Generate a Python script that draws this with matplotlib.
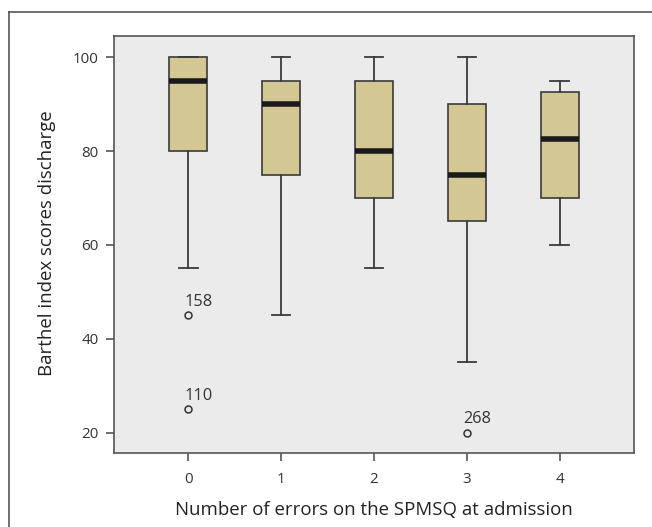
import matplotlib
matplotlib.use("Agg")
import matplotlib.pyplot as plt
from matplotlib.lines import Line2D

plt.rcParams['font.family'] = ['Open Sans', 'DejaVu Sans']

categories = ["0", "1", "2", "3", "4"]
whisker_low = [55, 45, 55, 35, 60]
q1 = [80, 75, 70, 65, 70]
median = [95, 90, 80, 75, 82.5]
q3 = [100, 95, 95, 90, 92.5]
whisker_high = [100, 100, 100, 100, 95]
outlier_group = [0, 0, 3]
outlier_value = [45, 25, 20]
outlier_label = ["158", "110", "268"]
yticks = [20, 40, 60, 80, 100]
xlabel = "Number of errors on the SPMSQ at admission"
ylabel = "Barthel index scores discharge"

W, H = 652, 527
fig = plt.figure(figsize=(W / 100, H / 100), dpi=100)
renderer = fig.canvas.get_renderer()


def fit_size(text, target_px, base=12.0):
    t = fig.text(0, 0, text, fontsize=base)
    bb = t.get_window_extent(renderer=renderer)
    t.remove()
    return base * target_px / bb.width


tick_fs = fit_size("100", 26)
out_fs = fit_size("158", 28)
xl_fs = fit_size(xlabel, 396)
yl_fs = xl_fs

ax = fig.add_axes([114 / W, 1 - 453 / H, (634 - 114) / W, (453 - 36) / H])

stats = []
for i, c in enumerate(categories):
    stats.append(dict(label=c, whislo=whisker_low[i], q1=q1[i], med=median[i],
                      q3=q3[i], whishi=whisker_high[i], fliers=[]))

edge = "#3a3a3a"
ax.bxp(stats, positions=range(len(categories)), widths=0.41, patch_artist=True,
       showfliers=False,
       boxprops=dict(facecolor="#d3c894", edgecolor=edge, linewidth=1.2),
       medianprops=dict(color="#1a1a1a", linewidth=4, solid_capstyle="butt"),
       whiskerprops=dict(color=edge, linewidth=1.3),
       capprops=dict(color=edge, linewidth=1.3),
       capwidths=0.2)

for g, v, lab in zip(outlier_group, outlier_value, outlier_label):
    ax.plot([g], [v], marker="o", markersize=5, markerfacecolor="none",
            markeredgecolor="#333333", markeredgewidth=1.1, linestyle="none")
    ax.annotate(lab, (g, v), xytext=(-2.5, 4), textcoords="offset points",
                fontsize=out_fs, color="#333333", ha="left", va="bottom")

ax.set_facecolor("#ebebeb")
ax.set_xlim(-0.8, 4.8)
ax.set_ylim(15.7, 104.5)
ax.set_yticks(yticks)
ax.set_xticks(range(len(categories)))
ax.set_xticklabels(categories)
for s in ax.spines.values():
    s.set_color("#555555")
    s.set_linewidth(1.2)
ax.tick_params(axis="both", direction="out", width=1.2, color="#555555",
               labelsize=tick_fs, labelcolor="#333333")
ax.tick_params(axis="y", length=6, pad=5)
ax.tick_params(axis="x", length=5.5, pad=8)

fig.text(374 / W, 1 - 510 / H, xlabel, fontsize=xl_fs, color="#222222",
         ha="center", va="center")
fig.text(47 / W, 1 - 243 / H, ylabel, fontsize=yl_fs, color="#222222",
         ha="center", va="center", rotation=90)

# outer frame (top and left visible)
fig.add_artist(Line2D([9 / W, 1], [1 - 12 / H, 1 - 12 / H], color="#555555",
                      linewidth=1.2, transform=fig.transFigure))
fig.add_artist(Line2D([9 / W, 9 / W], [0, 1 - 12 / H], color="#555555",
                      linewidth=1.2, transform=fig.transFigure))

fig.savefig("out.png", dpi=100, facecolor="white")
